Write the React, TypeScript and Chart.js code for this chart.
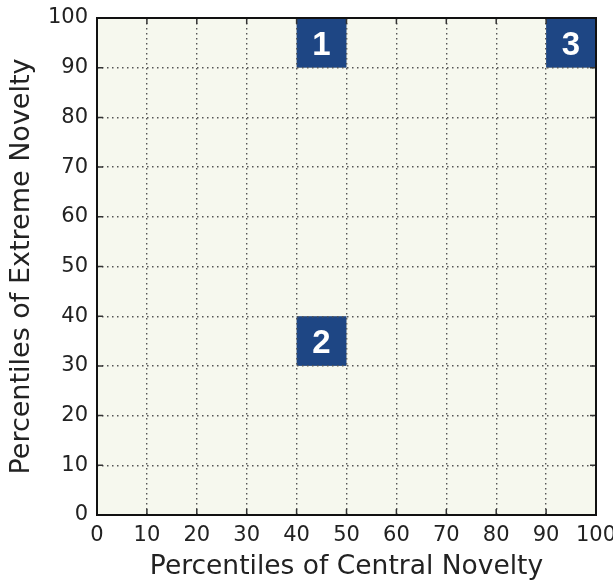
import React, { useEffect, useRef } from "react";
import { Chart, registerables } from "chart.js";

Chart.register(...registerables);

const cellLeft = [40, 40, 90];
const cellBottom = [90, 30, 90];
const cellLabels = ["1", "2", "3"];
const cellSize = 10;
const tickValues = [0, 10, 20, 30, 40, 50, 60, 70, 80, 90, 100];
const xTitle = "Percentiles of Central Novelty";
const yTitle = "Percentiles of Extreme Novelty";

const FONT = "'DejaVu Sans', sans-serif";
const BG = "#f6f8ee";
const CELL = "#1e4684";

const cellPlugin = {
  id: "cells",
  beforeDraw(chart: any) {
    const { ctx, chartArea: a } = chart;
    ctx.save();
    ctx.fillStyle = BG;
    ctx.fillRect(a.left, a.top, a.right - a.left, a.bottom - a.top);
    ctx.restore();
  },
  beforeDatasetsDraw(chart: any) {
    const { ctx } = chart;
    const xs = chart.scales.x;
    const ys = chart.scales.y;
    ctx.save();
    ctx.fillStyle = CELL;
    for (let i = 0; i < cellLeft.length; i++) {
      const x0 = xs.getPixelForValue(cellLeft[i]);
      const x1 = xs.getPixelForValue(cellLeft[i] + cellSize);
      const y0 = ys.getPixelForValue(cellBottom[i] + cellSize);
      const y1 = ys.getPixelForValue(cellBottom[i]);
      ctx.fillRect(x0, y0, x1 - x0, y1 - y0);
    }
    ctx.restore();
  },
  afterDraw(chart: any) {
    const { ctx, chartArea: a } = chart;
    const xs = chart.scales.x;
    const ys = chart.scales.y;
    ctx.save();
    ctx.fillStyle = "#ffffff";
    ctx.font = `bold 33px 'Liberation Sans', Arial, sans-serif`;
    ctx.textAlign = "center";
    ctx.textBaseline = "alphabetic";
    for (let i = 0; i < cellLeft.length; i++) {
      const cx = xs.getPixelForValue(cellLeft[i] + cellSize / 2);
      const cy = ys.getPixelForValue(cellBottom[i] + cellSize / 2);
      ctx.fillText(cellLabels[i], cx, cy + 12);
    }
    ctx.strokeStyle = "#333333";
    ctx.lineWidth = 1.5;
    const tl = 6;
    ctx.beginPath();
    for (const v of tickValues) {
      const px = xs.getPixelForValue(v);
      ctx.moveTo(px, a.bottom);
      ctx.lineTo(px, a.bottom - tl);
      ctx.moveTo(px, a.top);
      ctx.lineTo(px, a.top + tl);
      const py = ys.getPixelForValue(v);
      ctx.moveTo(a.left, py);
      ctx.lineTo(a.left + tl, py);
      ctx.moveTo(a.right, py);
      ctx.lineTo(a.right - tl, py);
    }
    ctx.stroke();
    ctx.strokeStyle = "#111111";
    ctx.lineWidth = 2;
    ctx.strokeRect(a.left, a.top, a.right - a.left, a.bottom - a.top);
    ctx.restore();
  },
};

export default function App() {
  const ref = useRef<HTMLCanvasElement | null>(null);
  useEffect(() => {
    if (!ref.current) return;
    const gridOpts = {
      z: 1,
      color: "#555555",
      lineWidth: 1.4,
      drawTicks: false,
    };
    const borderOpts = { display: false, dash: [1.5, 3.5] };
    const chart = new Chart(ref.current, {
      type: "scatter",
      data: {
        datasets: [
          {
            label: "cells",
            data: cellLeft.map((x, i) => ({ x: x + cellSize / 2, y: cellBottom[i] + cellSize / 2 })),
            pointRadius: 0,
            pointHoverRadius: 0,
          },
        ],
      },
      options: {
        animation: false,
        responsive: false,
        events: [],
        layout: { padding: { top: 18, right: 17, left: 0, bottom: 0 } },
        plugins: { legend: { display: false }, tooltip: { enabled: false } },
        scales: {
          x: {
            type: "linear",
            min: 0,
            max: 100,
            afterFit(s: any) {
              s.height = 68;
              s.paddingLeft = 0;
              s.paddingRight = 0;
            },
            afterBuildTicks(s: any) {
              s.ticks = tickValues.map((v) => ({ value: v }));
            },
            grid: gridOpts,
            border: borderOpts,
            ticks: {
              padding: 8,
              color: "#222222",
              font: { family: FONT, size: 21 },
              maxRotation: 0,
            },
            title: {
              display: true,
              text: xTitle,
              color: "#222222",
              font: { family: FONT, size: 26.5 },
              padding: { top: 0, bottom: 0 },
            },
          },
          y: {
            type: "linear",
            min: 0,
            max: 100,
            afterFit(s: any) {
              s.width = 97;
              s.paddingTop = 0;
              s.paddingBottom = 0;
            },
            afterBuildTicks(s: any) {
              s.ticks = tickValues.map((v) => ({ value: v }));
            },
            grid: gridOpts,
            border: borderOpts,
            ticks: {
              padding: 9,
              color: "#222222",
              font: { family: FONT, size: 21 },
            },
            title: {
              display: true,
              text: yTitle,
              color: "#222222",
              font: { family: FONT, size: 27 },
              padding: { top: 6, bottom: 0 },
            },
          },
        },
      },
      plugins: [cellPlugin],
    });
    return () => chart.destroy();
  }, []);
  return (
    <div style={{ position: "fixed", left: 0, top: 0, width: 613, height: 583, background: "#ffffff" }}>
      <canvas ref={ref} width={613} height={583} style={{ display: "block", width: 613, height: 583 }} />
    </div>
  );
}
